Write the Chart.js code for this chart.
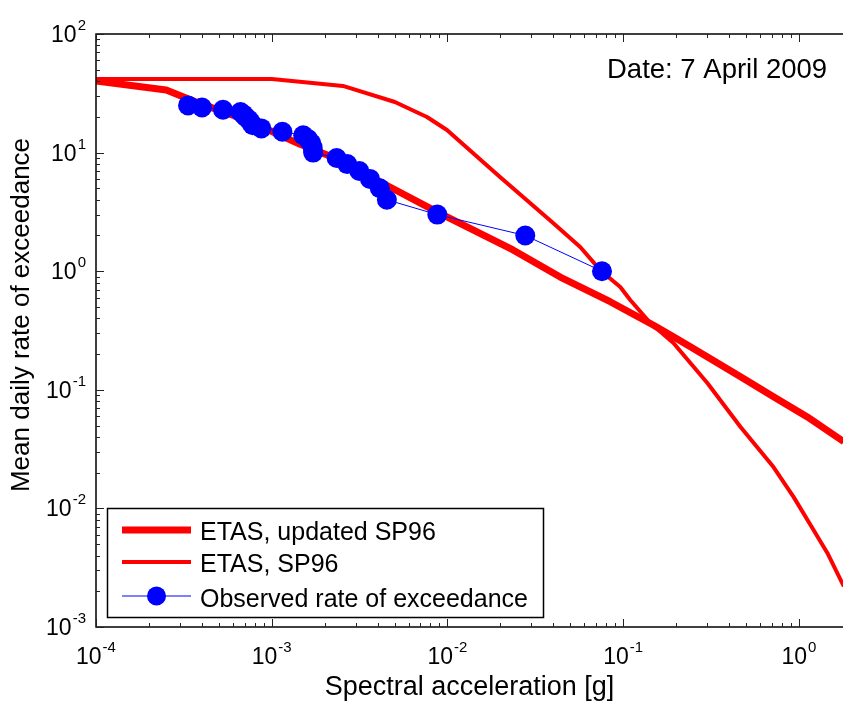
<!DOCTYPE html>
<html>
<head>
<meta charset="utf-8">
<script src="https://cdn.jsdelivr.net/npm/chart.js@4"></script>
<style>
  html, body { margin: 0; padding: 0; background: #fff; }
  #wrap { width: 843px; height: 704px; position: relative; }
</style>
</head>
<body>
<div id="wrap"><canvas id="hazardChart"></canvas></div>
<script>
// ETAS, updated SP96 (thick red line)
const updatedAcc = [1e-4, 2.51e-4, 3.89e-4, 6.0e-4, 9.33e-4, 1.44e-3, 2.44e-3, 4.7e-3, 8.71e-3, 0.0236, 0.0438, 0.0843, 0.148, 0.193, 0.241, 0.300, 0.465, 0.716, 1.11, 1.8];
const updatedRate = [40.2, 33.7, 26.0, 20.7, 15.8, 11.8, 8.66, 5.13, 3.16, 1.51, 0.893, 0.553, 0.352, 0.280, 0.231, 0.190, 0.129, 0.0875, 0.0593, 0.0365];

// ETAS, SP96 (thin red line)
const sp96Acc = [1e-4, 1e-3, 2.54e-3, 5.02e-3, 7.64e-3, 9.93e-3, 0.0199, 0.0399, 0.0569, 0.074, 0.0962, 0.1096, 0.1426, 0.193, 0.301, 0.465, 0.716, 0.931, 1.21, 1.45, 1.8];
const sp96Rate = [41.7, 41.7, 36.5, 26.7, 19.95, 15.5, 6.22, 2.55, 1.6, 1.02, 0.736, 0.572, 0.366, 0.248, 0.114, 0.0485, 0.0223, 0.0125, 0.00657, 0.00421, 0.0022];

// Observed rate of exceedance (blue markers)
const obsAcc = [3.34e-4, 4.01e-4, 5.28e-4, 6.64e-4, 6.9e-4, 7.1e-4, 7.4e-4, 7.6e-4, 7.8e-4, 8.73e-4, 1.15e-3, 1.51e-3, 1.61e-3, 1.68e-3, 1.71e-3, 1.72e-3, 2.34e-3, 2.69e-3, 3.15e-3, 3.62e-3, 4.12e-3, 4.52e-3, 8.75e-3, 0.0277, 0.0757];
const obsRate = [25, 24, 23, 22, 21, 20, 19, 18, 17, 16, 15, 14, 13, 12, 11, 10, 9, 8, 7, 6, 5, 4, 3, 2, 1];

// axis ranges and labelled decades
const xMin = 1e-4, xMax = 1.78;
const yMin = 1e-3, yMax = 1e2;
const xDecades = [1e-4, 1e-3, 1e-2, 1e-1, 1];
const xExponents = ['-4', '-3', '-2', '-1', '0'];
const yDecades = [1e-3, 1e-2, 1e-1, 1, 10, 100];
const yExponents = ['-3', '-2', '-1', '0', '1', '2'];

const FONT = '"Liberation Sans", Arial, Helvetica, sans-serif';
const RED = '#ff0000';
const BLUE = '#0000ff';

function toPoints(xs, ys) {
    return xs.map((v, i) => ({ x: v, y: ys[i] }));
}

// MATLAB-like frame, inward ticks, 10^n labels, y title, date note and legend
const matlabAxes = {
    id: 'matlabAxes',
    afterDraw(chart) {
        const { ctx, chartArea: a, scales: { x, y } } = chart;
        ctx.save();

        // frame (right edge is cut off in the original)
        ctx.strokeStyle = '#000';
        ctx.lineWidth = 1.5;
        ctx.beginPath();
        ctx.moveTo(a.right, a.top);
        ctx.lineTo(a.left, a.top);
        ctx.lineTo(a.left, a.bottom);
        ctx.lineTo(a.right, a.bottom);
        ctx.stroke();

        // ticks
        ctx.lineWidth = 1;
        ctx.strokeStyle = '#222';
        xDecades.forEach(d => {
            for (let m = 1; m <= 9; m++) {
                const v = d * m;
                if (v < xMin || v > xMax) continue;
                const px = Math.round(x.getPixelForValue(v)) + 0.5;
                const len = m === 1 ? 8 : 4;
                ctx.beginPath();
                ctx.moveTo(px, a.bottom); ctx.lineTo(px, a.bottom - len);
                ctx.moveTo(px, a.top); ctx.lineTo(px, a.top + len);
                ctx.stroke();
            }
        });
        yDecades.forEach(d => {
            for (let m = 1; m <= 9; m++) {
                const v = d * m;
                if (v < yMin || v > yMax) continue;
                const py = Math.round(y.getPixelForValue(v)) + 0.5;
                const len = m === 1 ? 8 : 4;
                ctx.beginPath();
                ctx.moveTo(a.left, py); ctx.lineTo(a.left + len, py);
                ctx.stroke();
            }
        });

        // tick labels as 10 with a raised exponent
        ctx.fillStyle = '#000';
        ctx.textBaseline = 'alphabetic';
        ctx.textAlign = 'left';
        const baseFont = '23px ' + FONT;
        const expFont = '15px ' + FONT;
        xDecades.forEach((d, i) => {
            const px = x.getPixelForValue(d);
            ctx.font = baseFont;
            const w10 = ctx.measureText('10').width;
            ctx.font = expFont;
            const wExp = ctx.measureText(xExponents[i]).width;
            const start = px - (w10 + wExp + 1) / 2;
            ctx.font = baseFont;
            ctx.fillText('10', start, a.bottom + 37);
            ctx.font = expFont;
            ctx.fillText(xExponents[i], start + w10 + 1, a.bottom + 25);
        });
        yDecades.forEach((d, i) => {
            const py = y.getPixelForValue(d);
            ctx.font = expFont;
            const wExp = ctx.measureText(yExponents[i]).width;
            ctx.font = baseFont;
            const w10 = ctx.measureText('10').width;
            const right = a.left - 10;
            ctx.fillText('10', right - wExp - 1 - w10, py + 8);
            ctx.font = expFont;
            ctx.fillText(yExponents[i], right - wExp, py - 4);
        });

        // y axis title
        ctx.save();
        ctx.translate(22, 315);
        ctx.rotate(-Math.PI / 2);
        ctx.textAlign = 'center';
        ctx.textBaseline = 'middle';
        ctx.font = '26px ' + FONT;
        ctx.fillText('Mean daily rate of exceedance', 0, 0);
        ctx.restore();

        // date note
        ctx.font = '27.5px ' + FONT;
        ctx.fillText('Date: 7 April 2009', 607, 78);

        // legend box
        const box = { left: 107.5, top: 508.5, width: 436, height: 109 };
        ctx.fillStyle = '#fff';
        ctx.fillRect(box.left, box.top, box.width, box.height);
        ctx.strokeStyle = '#000';
        ctx.lineWidth = 1.5;
        ctx.strokeRect(box.left, box.top, box.width, box.height);

        const items = chart.data.datasets.slice().reverse();
        const rowY = [530, 562, 596];
        const textY = [539.5, 572, 606.5];
        items.forEach((ds, i) => {
            ctx.strokeStyle = ds.borderColor;
            ctx.lineWidth = ds.borderWidth;
            ctx.beginPath();
            ctx.moveTo(122, rowY[i]);
            ctx.lineTo(191, rowY[i]);
            ctx.stroke();
            if (ds.pointRadius > 0) {
                ctx.fillStyle = ds.pointBackgroundColor;
                ctx.beginPath();
                ctx.arc(156.5, rowY[i], 9.5, 0, Math.PI * 2);
                ctx.fill();
            }
            ctx.fillStyle = '#000';
            ctx.font = '25px ' + FONT;
            ctx.fillText(ds.label, 200, textY[i]);
        });

        ctx.restore();
    }
};

new Chart(document.getElementById('hazardChart'), {
    type: 'line',
    data: {
        datasets: [
            {
                label: 'Observed rate of exceedance',
                data: toPoints(obsAcc, obsRate),
                borderColor: BLUE,
                borderWidth: 1,
                pointRadius: 10,
                pointBackgroundColor: BLUE,
                pointBorderWidth: 0,
                tension: 0,
                order: 0
            },
            {
                label: 'ETAS, SP96',
                data: toPoints(sp96Acc, sp96Rate),
                borderColor: RED,
                borderWidth: 4,
                pointRadius: 0,
                tension: 0,
                borderJoinStyle: 'round',
                order: 1
            },
            {
                label: 'ETAS, updated SP96',
                data: toPoints(updatedAcc, updatedRate),
                borderColor: RED,
                borderWidth: 7,
                pointRadius: 0,
                tension: 0,
                borderJoinStyle: 'round',
                order: 2
            }
        ]
    },
    options: {
        responsive: true,
        maintainAspectRatio: false,
        animation: false,
        layout: { autoPadding: false, padding: { top: 34, right: 0, bottom: 0, left: 0 } },
        plugins: {
            legend: { display: false },
            tooltip: { enabled: false }
        },
        scales: {
            x: {
                type: 'logarithmic',
                min: xMin,
                max: xMax,
                grid: { display: false },
                border: { display: false },
                ticks: { display: false },
                title: {
                    display: true,
                    text: 'Spectral acceleration [g]',
                    color: '#000',
                    font: { size: 27, family: FONT },
                    padding: { top: 0, bottom: 0 }
                },
                afterFit: s => { s.height = 77; }
            },
            y: {
                type: 'logarithmic',
                min: yMin,
                max: yMax,
                grid: { display: false },
                border: { display: false },
                ticks: { display: false },
                afterFit: s => { s.width = 96; }
            }
        }
    },
    plugins: [matlabAxes]
});
</script>
</body>
</html>
